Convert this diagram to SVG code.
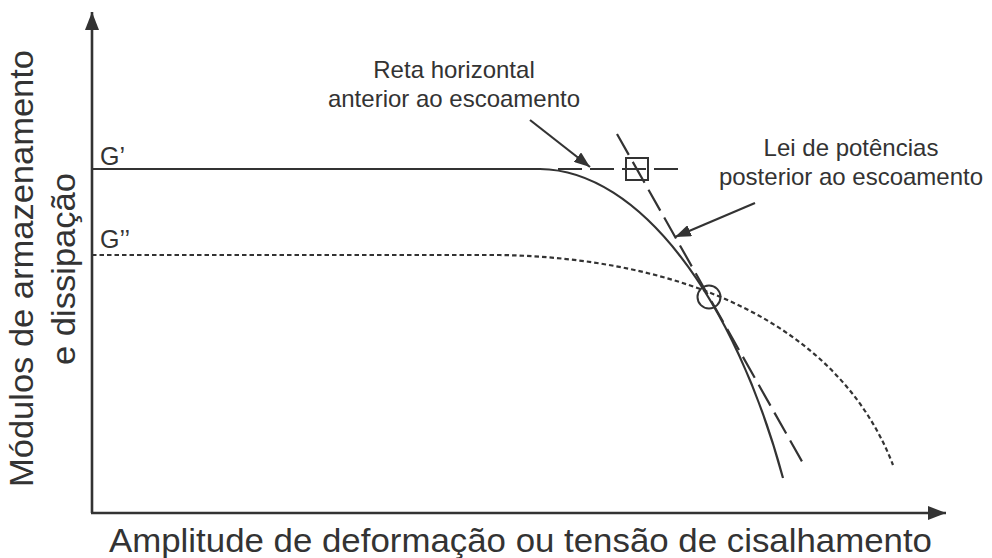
<svg xmlns="http://www.w3.org/2000/svg" width="992" height="558" viewBox="0 0 992 558">
<defs>
<style>
.ln{fill:none;stroke:#333;stroke-width:2.2}
.ax{fill:none;stroke:#333;stroke-width:2.6}
.dot{fill:none;stroke:#333;stroke-width:2.2;stroke-dasharray:4.5 3}
.dash{fill:none;stroke:#333;stroke-width:2.2;stroke-dasharray:24 8}
.t{font-family:"Liberation Sans",Arial,sans-serif;fill:#333}
</style>
<marker id="ah" viewBox="0 0 16 12" refX="16" refY="6" markerWidth="16" markerHeight="12" markerUnits="userSpaceOnUse" orient="auto">
<path d="M0,0 L16,6 L0,12 Z" fill="#333"/>
</marker>
<marker id="axh" viewBox="0 0 18 14" refX="18" refY="7" markerWidth="18" markerHeight="14" markerUnits="userSpaceOnUse" orient="auto">
<path d="M0,0 L18,7 L0,14 Z" fill="#333"/>
</marker>
</defs>
<rect width="992" height="558" fill="#fff"/>
<g id="axes">
<path class="ax" d="M92,513 L92,12" marker-end="url(#axh)"/>
<path class="ax" d="M91,513 L946,513" marker-end="url(#axh)"/>
</g>
<g id="curves">
<path id="gprime" class="ln" d="M92,169 L540,169 C640,170 735,300 783,478"/>
<path id="gdoubleprime" class="dot" d="M92,255 L500,255 C680,258 838,322 893,465"/>
<path id="horiz-dashed" class="dash" d="M558,169 L682,169"/>
<path id="power-dashed" class="dash" d="M617,134 L804,465"/>
</g>
<g id="markers">
<rect x="626" y="158" width="22" height="22" fill="none" stroke="#333" stroke-width="2"/>
<circle cx="709" cy="297" r="11.5" fill="none" stroke="#333" stroke-width="2"/>
</g>
<g id="connectors">
<path class="ln" d="M530,120 L590,167" marker-end="url(#ah)"/>
<path class="ln" d="M755,203 L675,237" marker-end="url(#ah)"/>
</g>
<g id="labels">
<text class="t" x="100" y="165" font-size="25">G’</text>
<text class="t" x="100" y="248" font-size="25">G’’</text>
<text class="t" x="454" y="78" font-size="24" text-anchor="middle">Reta horizontal</text>
<text class="t" x="454" y="107" font-size="24" text-anchor="middle">anterior ao escoamento</text>
<text class="t" x="851" y="156" font-size="24" text-anchor="middle">Lei de potências</text>
<text class="t" x="851" y="185" font-size="24" text-anchor="middle">posterior ao escoamento</text>
<text class="t" font-size="33" text-anchor="middle" transform="translate(33,268.5) rotate(-90)" textLength="437" lengthAdjust="spacingAndGlyphs">Módulos de armazenamento</text>
<text class="t" font-size="33" text-anchor="middle" transform="translate(75,269) rotate(-90)" textLength="192" lengthAdjust="spacingAndGlyphs">e dissipação</text>
<text class="t" x="520.5" y="552" font-size="33" text-anchor="middle" textLength="823" lengthAdjust="spacingAndGlyphs">Amplitude de deformação ou tensão de cisalhamento</text>
</g>
</svg>
